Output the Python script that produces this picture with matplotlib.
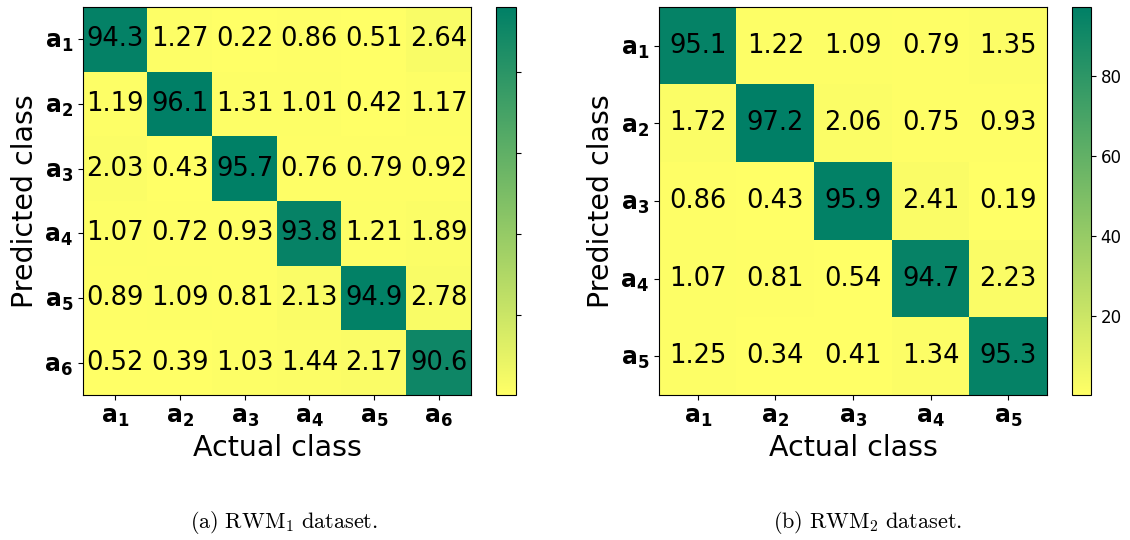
import matplotlib
matplotlib.use("Agg")
import matplotlib.pyplot as plt
import numpy as np

# confusion matrices (percent)
rwm1 = [
    [94.3, 1.27, 0.22, 0.86, 0.51, 2.64],
    [1.19, 96.1, 1.31, 1.01, 0.42, 1.17],
    [2.03, 0.43, 95.7, 0.76, 0.79, 0.92],
    [1.07, 0.72, 0.93, 93.8, 1.21, 1.89],
    [0.89, 1.09, 0.81, 2.13, 94.9, 2.78],
    [0.52, 0.39, 1.03, 1.44, 2.17, 90.6],
]
rwm2 = [
    [95.1, 1.22, 1.09, 0.79, 1.35],
    [1.72, 97.2, 2.06, 0.75, 0.93],
    [0.86, 0.43, 95.9, 2.41, 0.19],
    [1.07, 0.81, 0.54, 94.7, 2.23],
    [1.25, 0.34, 0.41, 1.34, 95.3],
]
labels1 = [r"$\mathbf{a_%d}$" % i for i in range(1, 7)]
labels2 = [r"$\mathbf{a_%d}$" % i for i in range(1, 6)]
cbar_ticks = [20, 40, 60, 80]
captions = [r"$\mathrm{(a)\ RWM_1\ dataset.}$", r"$\mathrm{(b)\ RWM_2\ dataset.}$"]

plt.rcParams["mathtext.fontset"] = "dejavusans"

fig = plt.figure(figsize=(11.3, 5.4), dpi=100)

W, H = 1130.0, 540.0


def box(x0, y0, x1, y1):
    return [x0 / W, 1 - y1 / H, (x1 - x0) / W, (y1 - y0) / H]


def draw(ax, cax, data, labels, show_cbar_labels):
    data = np.array(data)
    im = ax.imshow(data, cmap="summer_r", aspect="auto")
    n = data.shape[0]
    for i in range(n):
        for j in range(n):
            ax.text(j, i, format(data[i, j], ".3g"), ha="center", va="center",
                    fontsize=18.5, color="black")
    ax.set_xticks(range(n))
    ax.set_yticks(range(n))
    ax.set_xticklabels(labels, fontsize=17)
    ax.set_yticklabels(labels, fontsize=17)
    ax.set_xlabel("Actual class", fontsize=20.5)
    ax.set_ylabel("Predicted class", fontsize=20.5)
    cb = fig.colorbar(im, cax=cax, ticks=cbar_ticks)
    if show_cbar_labels:
        cb.ax.tick_params(labelsize=12)
    else:
        cb.ax.set_yticklabels([])
    return im


ax1 = fig.add_axes(box(83, 7, 471, 395))
cax1 = fig.add_axes(box(496, 7, 516, 395))
draw(ax1, cax1, rwm1, labels1, False)

ax2 = fig.add_axes(box(659, 7, 1047, 395))
cax2 = fig.add_axes(box(1072, 7, 1091, 395))
draw(ax2, cax2, rwm2, labels2, True)

plt.rcParams["mathtext.fontset"] = "cm"
fig.text(284 / W, 1 - 522 / H, captions[0], ha="center", va="center", fontsize=16)
fig.text(868 / W, 1 - 522 / H, captions[1], ha="center", va="center", fontsize=16)

fig.savefig("out.png", dpi=100)
